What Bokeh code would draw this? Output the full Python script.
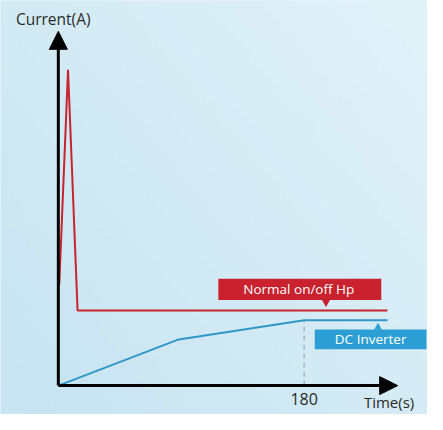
import numpy as np
from bokeh.plotting import figure
from bokeh.models import Arrow, NormalHead, BoxAnnotation, Label
from bokeh.embed import file_html
from bokeh.resources import INLINE

# Data (time in s, current in arbitrary units)
red_t = [0.7, 7.1, 14.1, 241.0]
red_i = [10.5, 32.8, 7.8, 7.8]
blue_t = [0.0, 88.2, 180.0, 241.0]
blue_i = [0.0, 4.8, 6.8, 6.8]
tick_t = [180]
tick_labels = ["180"]
series_names = ["Normal on/off Hp", "DC Inverter"]

RED = "#c8242e"
BLUE = "#3197c9"
FONT = "Open Sans"

W, H = 427, 414
p = figure(width=W, height=H, x_range=(-42.35, 270.35), y_range=(-3, 40),
           output_backend="svg", toolbar_location=None, min_border=0)
p.axis.visible = False
p.grid.visible = False
p.outline_line_color = None
p.background_fill_color = "#d3eaf4"
p.border_fill_color = "#d3eaf4"

# background gradient (decoration)
ny, nx = 60, 60
yy, xx = np.mgrid[0:ny, 0:nx]
t = (xx / (nx - 1)) * 0.55 + (yy / (ny - 1)) * 0.45
c0 = np.array([0xc6, 0xe4, 0xf1])
c1 = np.array([0xe2, 0xf2, 0xf9])
img = np.zeros((ny, nx), dtype=np.uint32)
view = img.view(dtype=np.uint8).reshape((ny, nx, 4))
for k in range(3):
    view[:, :, k] = (c0[k] + (c1[k] - c0[k]) * t).astype(np.uint8)
view[:, :, 3] = 255
p.image_rgba(image=[img], x=-42.35, y=-3, dw=312.7, dh=43)

# dashed guide at 180
p.line([tick_t[0], tick_t[0]], [0, blue_i[2]], line_color="#9a9a9a",
       line_dash="5 4", line_width=1)

# series
p.line(red_t, red_i, line_color=RED, line_width=2)
p.line(blue_t, blue_i, line_color=BLUE, line_width=2)

# axes with arrows
p.add_layout(Arrow(end=NormalHead(size=18, fill_color="black", line_color="black"),
                   x_start=0, y_start=0, x_end=248.5, y_end=0,
                   line_color="black", line_width=3))
p.add_layout(Arrow(end=NormalHead(size=18, fill_color="black", line_color="black"),
                   x_start=0, y_start=0, x_end=0, y_end=36.8,
                   line_color="black", line_width=3))

# series tags
p.add_layout(BoxAnnotation(left=117.2, right=236.5, bottom=8.9, top=11.1,
                           fill_color="#c9212d", fill_alpha=1, line_color=None))
p.scatter([196.0], [8.65], marker="inverted_triangle", size=8,
          fill_color="#c9212d", line_color=None)
p.add_layout(Label(x=176.1, y=10.0, text=series_names[0], text_color="white",
                   text_font=FONT, text_font_size="13.5px",
                   text_align="center", text_baseline="middle"))

p.add_layout(BoxAnnotation(left=187.8, right=269.6, bottom=3.77, top=5.83,
                           fill_color="#2b9fd3", fill_alpha=1, line_color=None))
p.scatter([234.1], [6.05], marker="triangle", size=8,
          fill_color="#2b9fd3", line_color=None)
p.add_layout(Label(x=228.7, y=4.8, text=series_names[1], text_color="white",
                   text_font=FONT, text_font_size="13.5px",
                   text_align="center", text_baseline="middle"))

# axis titles and tick label
p.add_layout(Label(x=-31.06, y=38.1, text="Current(A)", text_color="#2a2a2a",
                   text_font=FONT, text_font_size="15.5px",
                   text_align="left", text_baseline="middle"))
p.add_layout(Label(x=223.8, y=-1.75, text="Time(s)", text_color="#2a2a2a",
                   text_font=FONT, text_font_size="15px",
                   text_align="left", text_baseline="middle"))
p.add_layout(Label(x=tick_t[0], y=-1.4, text=tick_labels[0], text_color="#2a2a2a",
                   text_font=FONT, text_font_size="16px",
                   text_align="center", text_baseline="middle"))

open("out.html", "w").write(file_html(p, INLINE))
